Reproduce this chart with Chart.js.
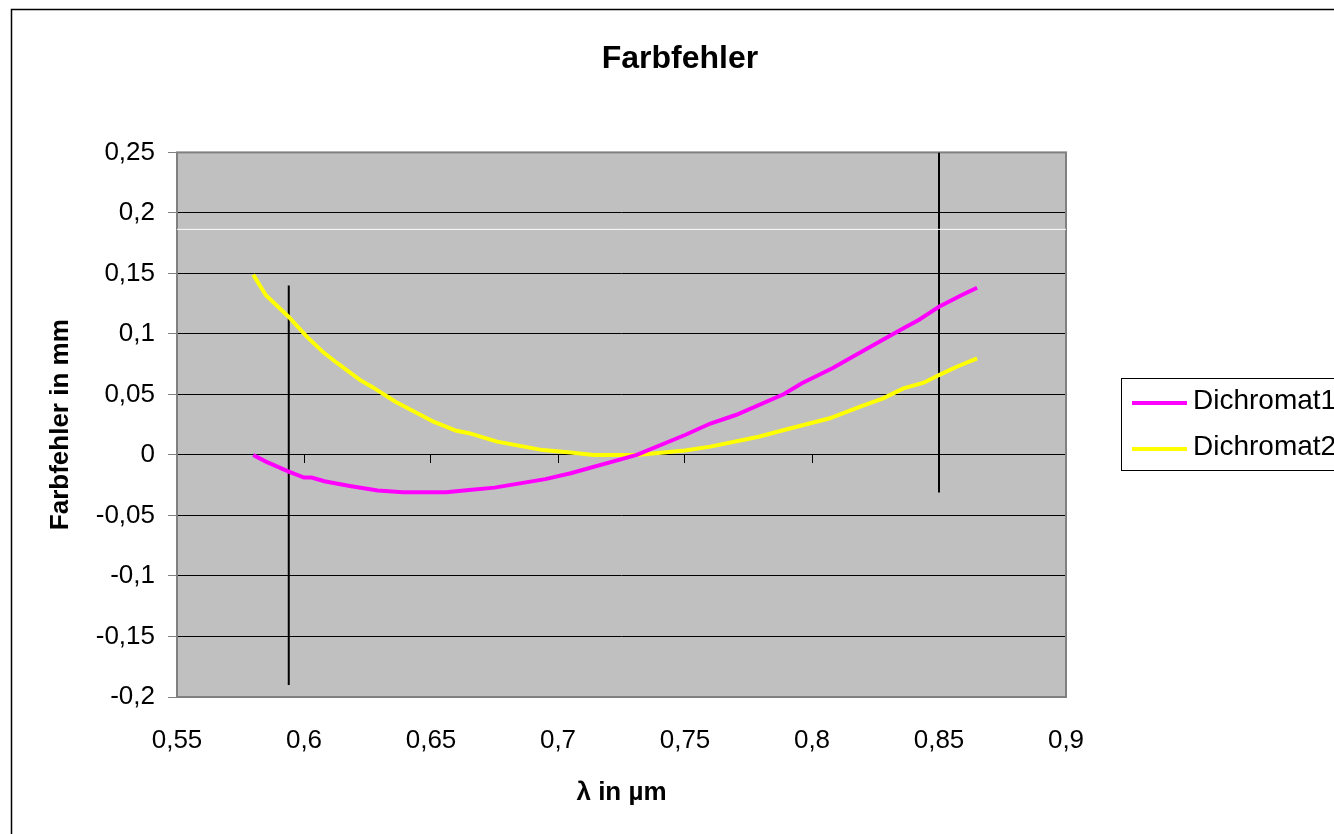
<!DOCTYPE html>
<html>
<head>
<meta charset="utf-8">
<script src="https://cdn.jsdelivr.net/npm/chart.js@4/dist/chart.umd.min.js"></script>
<style>
  body { margin: 0; background: #fff; }
  #farbChart { display: block; }
</style>
</head>
<body>
<canvas id="farbChart" width="1334" height="834"></canvas>
<script>
// wavelengths (µm) and chromatic error (mm)
var d1Lambda = [0.58, 0.585, 0.594, 0.600, 0.603, 0.608, 0.618, 0.629, 0.639, 0.656, 0.665, 0.675, 0.695, 0.705, 0.731, 0.750, 0.760, 0.770, 0.789, 0.796, 0.808, 0.823, 0.836, 0.842, 0.846, 0.850, 0.859, 0.865];
var d1Values = [0, -0.0055, -0.0138, -0.0187, -0.0187, -0.0217, -0.0256, -0.0294, -0.0308, -0.0308, -0.029, -0.027, -0.020, -0.0151, 0, 0.0165, 0.026, 0.033, 0.0504, 0.0592, 0.0716, 0.0894, 0.1046, 0.1115, 0.117, 0.1225, 0.1321, 0.1382];

var d2Lambda = [0.58, 0.585, 0.5905, 0.594, 0.601, 0.6075, 0.613, 0.622, 0.627, 0.636, 0.651, 0.660, 0.665, 0.676, 0.694, 0.705, 0.714, 0.731, 0.750, 0.760, 0.779, 0.789, 0.807, 0.819, 0.828, 0.836, 0.844, 0.850, 0.857, 0.865];
var d2Values = [0.149, 0.132, 0.121, 0.114, 0.098, 0.085, 0.076, 0.062, 0.056, 0.044, 0.0275, 0.020, 0.018, 0.011, 0.004, 0.002, 0, 0, 0.0036, 0.0069, 0.0151, 0.0206, 0.0303, 0.040, 0.0468, 0.055, 0.0597, 0.066, 0.0729, 0.0798];

// the two vertical marker lines and the thin white reference line
var markLambda = [0.594, 0.85];
var markFrom = [-0.19, -0.031];
var markTo = [0.14, 0.25];
var refValue = 0.1864;

var xMin = 0.55, xMax = 0.9, yMin = -0.2, yMax = 0.25, step = 0.05;

function pts(xs, ys) {
  var out = [];
  for (var i = 0; i < xs.length; i++) out.push({x: xs[i], y: ys[i]});
  return out;
}
function fmt(v) {
  return String(+Number(v).toFixed(2)).replace('.', ',');
}

var FONT = '"Liberation Sans", Arial, sans-serif';

var plotFrame = {
  id: 'plotFrame',
  beforeDraw: function(chart) {
    var a = chart.chartArea, ctx = chart.ctx;
    ctx.save();
    ctx.fillStyle = '#C0C0C0';
    ctx.fillRect(a.left, a.top, a.right - a.left, a.bottom - a.top);
    ctx.restore();
  },
  beforeDatasetsDraw: function(chart) {
    var a = chart.chartArea, ctx = chart.ctx;
    ctx.save();
    ctx.strokeStyle = '#808080';
    ctx.lineWidth = 2;
    ctx.strokeRect(a.left, a.top, a.right - a.left, a.bottom - a.top);
    ctx.restore();
  },
  afterDraw: function(chart) {
    var ctx = chart.ctx;
    ctx.save();
    // outer chart border
    ctx.strokeStyle = '#000';
    ctx.lineWidth = 1.5;
    ctx.strokeRect(11.5, 9.5, 1400, 900);

    // legend
    ctx.fillStyle = '#fff';
    ctx.fillRect(1121.5, 378.5, 300, 92);
    ctx.lineWidth = 1;
    ctx.strokeRect(1121.5, 378.5, 300, 92);
    var rows = chart.data.datasets.filter(function(d) { return d.inLegend; });
    rows.forEach(function(d, i) {
      var y = 403 + i * 46;
      ctx.strokeStyle = d.borderColor;
      ctx.lineWidth = 4;
      ctx.beginPath();
      ctx.moveTo(1132, y);
      ctx.lineTo(1187, y);
      ctx.stroke();
      ctx.fillStyle = '#000';
      ctx.font = '28px ' + FONT;
      ctx.textBaseline = 'middle';
      ctx.textAlign = 'left';
      ctx.fillText(d.label, 1193, y - 2);
    });
    ctx.restore();
  }
};

var datasets = [
  {
    label: 'Referenz',
    data: [{x: xMin, y: refValue}, {x: xMax, y: refValue}],
    borderColor: '#ffffff', borderWidth: 1
  },
  {
    label: 'Dichromat1', inLegend: true,
    data: pts(d1Lambda, d1Values),
    borderColor: '#FF00FF', borderWidth: 4
  },
  {
    label: 'Dichromat2', inLegend: true,
    data: pts(d2Lambda, d2Values),
    borderColor: '#FFFF00', borderWidth: 4
  }
];
markLambda.forEach(function(l, i) {
  datasets.push({
    label: 'Marke' + (i + 1),
    data: [{x: l, y: markFrom[i]}, {x: l, y: markTo[i]}],
    borderColor: '#000000', borderWidth: 2
  });
});
datasets.forEach(function(d) {
  d.showLine = true;
  d.pointRadius = 0;
  d.tension = 0;
  d.fill = false;
});

new Chart(document.getElementById('farbChart'), {
  type: 'scatter',
  data: { datasets: datasets },
  plugins: [plotFrame],
  options: {
    responsive: false,
    animation: false,
    layout: { padding: { left: 26, right: 0, top: 0, bottom: 0 } },
    plugins: {
      legend: { display: false },
      tooltip: { enabled: false },
      title: {
        display: true,
        text: 'Farbfehler',
        color: '#000',
        font: { family: FONT, size: 32, weight: 'bold' },
        padding: { top: 40, bottom: 74 }
      }
    },
    scales: {
      x: {
        type: 'linear', position: 'bottom',
        min: xMin, max: xMax,
        afterFit: function(s) { s.height = 137; },
        ticks: {
          stepSize: step, color: '#000', padding: 20,
          font: { family: FONT, size: 26 },
          callback: fmt
        },
        grid: { display: false },
        border: { display: false },
        title: {
          display: true, text: 'λ in µm', color: '#000',
          font: { family: FONT, size: 26, weight: 'bold' },
          padding: { top: 0, bottom: 26 }
        }
      },
      x2: {
        type: 'linear', axis: 'x', position: { y: 0 },
        min: xMin, max: xMax,
        ticks: { display: false, stepSize: step },
        grid: { drawOnChartArea: false, drawTicks: true, tickLength: 8, color: '#000', lineWidth: 1 },
        border: { display: true, color: '#000', width: 1 }
      },
      y: {
        type: 'linear', position: 'left',
        min: yMin, max: yMax,
        afterFit: function(s) { s.width = 151; },
        ticks: {
          stepSize: step, color: '#000', padding: 13,
          font: { family: FONT, size: 26 },
          callback: fmt
        },
        grid: { color: '#000', lineWidth: 1, tickColor: '#808080', tickLength: 9 },
        border: { display: false },
        title: {
          display: true, text: 'Farbfehler in mm', color: '#000',
          font: { family: FONT, size: 26, weight: 'bold' },
          padding: { top: 19, bottom: 0 }
        }
      },
      yPad: {
        type: 'linear', axis: 'y', position: 'right',
        min: 0, max: 1,
        afterFit: function(s) { s.width = 268; },
        ticks: { display: false },
        grid: { display: false },
        border: { display: false }
      }
    }
  }
});
</script>
</body>
</html>
